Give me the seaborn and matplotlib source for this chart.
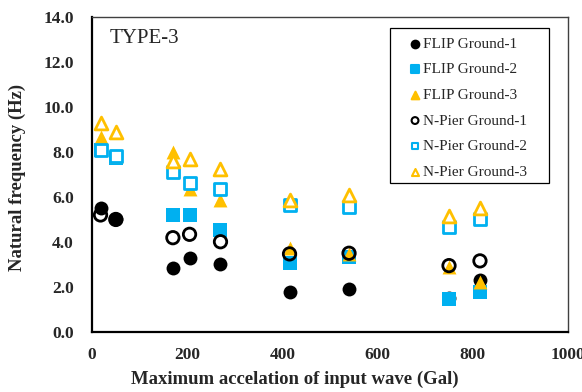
import matplotlib
matplotlib.use("Agg")
import matplotlib.pyplot as plt
import seaborn as sns
from matplotlib.ticker import MultipleLocator, FormatStrFormatter
from matplotlib.patches import Rectangle

# Data
accel = [18, 50, 170, 205, 270, 415, 540, 750, 815]
flip_g1 = [5.50, 5.02, 2.83, 3.27, 3.01, 1.76, 1.90, 1.50, 2.30]
flip_g2 = [8.10, 7.75, 5.20, 5.20, 4.53, 3.05, 3.35, 1.47, 1.79]
flip_g3 = [8.68, 7.80, 8.01, 6.35, 5.87, 3.72, 3.45, 2.90, 2.24]
npier_g1 = [5.20, 5.00, 4.19, 4.34, 4.01, 3.47, 3.50, 2.95, 3.16]
npier_g2 = [8.09, 7.84, 7.12, 6.64, 6.34, 5.64, 5.57, 4.65, 5.02]
npier_g3 = [9.29, 8.90, 7.60, 7.67, 7.23, 5.87, 6.09, 5.16, 5.50]

labels = ["FLIP Ground-1", "FLIP Ground-2", "FLIP Ground-3",
          "N-Pier Ground-1", "N-Pier Ground-2", "N-Pier Ground-3"]

sns.set_theme(style="white")
plt.rcParams["font.family"] = ["Liberation Serif", "DejaVu Serif"]

BLACK = "#000000"
BLUE = "#00B0F0"
ORANGE = "#FFC000"

fig = plt.figure(figsize=(5.82, 3.92), dpi=100)
ax = fig.add_axes([0.158, 0.153, 0.818, 0.804])

series = [
    (flip_g1, "o", BLACK, BLACK, 0.0, 100),
    (flip_g2, "s", BLUE, BLUE, 0.0, 90),
    (flip_g3, "^", ORANGE, ORANGE, 0.0, 100),
    (npier_g1, "o", "none", BLACK, 2.0, 80),
    (npier_g2, "s", "white", BLUE, 2.0, 75),
    (npier_g3, "^", "white", ORANGE, 2.0, 85),
]
for (vals, mk, fc, ec, lw, sz), lab in zip(series, labels):
    sns.scatterplot(x=accel, y=vals, marker=mk, s=sz, color=fc,
                    edgecolor=ec, linewidth=lw, label=lab, ax=ax, zorder=3)

ax.set_xlim(0, 1000)
ax.set_ylim(0, 14)
ax.xaxis.set_major_locator(MultipleLocator(200))
ax.yaxis.set_major_locator(MultipleLocator(2))
ax.yaxis.set_minor_locator(MultipleLocator(1))
ax.yaxis.set_major_formatter(FormatStrFormatter("%.1f"))
ax.tick_params(axis="both", which="both", direction="in", width=1,
               labelsize=12.5)
ax.tick_params(axis="y", which="minor", length=3)
ax.tick_params(axis="y", which="major", length=4, pad=13)
ax.tick_params(axis="x", which="major", length=4, pad=11)
for t in ax.get_xticklabels() + ax.get_yticklabels():
    t.set_fontweight("bold")

for side in ["left", "bottom"]:
    ax.spines[side].set_color("black")
    ax.spines[side].set_linewidth(1.6)
for side in ["top", "right"]:
    ax.spines[side].set_color("#404040")
    ax.spines[side].set_linewidth(1.0)
ax.grid(False)

ax.set_xlabel("Maximum accelation of input wave (Gal)", fontsize=13.5,
              fontweight="bold")
ax.xaxis.set_label_coords(0.426, -0.122)
ax.set_ylabel("Natural frequency (Hz)", fontsize=13.5, fontweight="bold")
ax.yaxis.set_label_coords(-0.138, 0.49)

ax.text(0.038, 0.93, "TYPE-3", transform=ax.transAxes, fontsize=15,
        ha="left", va="center")

leg = ax.legend(loc="upper left", bbox_to_anchor=(0.669, 0.936),
                fontsize=11, frameon=False, markerscale=0.55,
                handlelength=0.6, handletextpad=0.22, labelspacing=0.78,
                borderpad=0.0, borderaxespad=0.0)
for h in leg.legend_handles:
    h.set_linewidth(1.5)
ax.add_patch(Rectangle((0.626, 0.473), 0.334, 0.492, transform=ax.transAxes,
                       fill=True, facecolor="white", edgecolor="black",
                       linewidth=0.9, zorder=4))
leg.set_zorder(5)

fig.savefig("out.png", dpi=100)
